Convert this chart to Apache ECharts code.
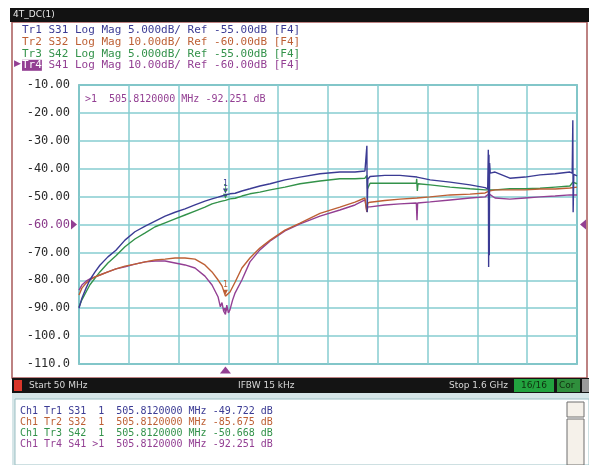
<!DOCTYPE html>
<html>
<head>
<meta charset="utf-8">
<script src="https://cdn.jsdelivr.net/npm/echarts@6/dist/echarts.min.js"></script>
<style>
  html, body { margin: 0; padding: 0; background: #ffffff; }
  #chart { width: 589px; height: 465px; }
</style>
</head>
<body>
<div id="chart"></div>
<script>
// Sweep: 50 MHz .. 1.6 GHz, 10 horizontal divisions
const startMHz = 50;
const stopMHz = 1600;
const markerMHz = 505.812;

// Display scale of the active trace (Tr4): 10 dB/div, ref -60 dB at centre
const yTicks = [-110, -100, -90, -80, -70, -60, -50, -40, -30, -20, -10];

// Tr1 S31, 5 dB/div, ref -55 dB  ([MHz, dB])
const s31 = [
  [50,-70.0],[59,-68.2],[72,-66.4],[84,-64.9],[100,-63.5],[115,-62.3],[140,-60.8],[165,-59.6],
  [193,-57.8],[224,-56.3],[256,-55.3],[287,-54.4],[318,-53.5],[349,-52.8],[380,-52.2],[411,-51.5],
  [442,-50.8],[464,-50.4],[483,-50.1],[495,-49.9],[505.812,-49.722],[520,-49.5],[536,-49.4],
  [557,-49.0],[582,-48.6],[613,-48.1],[645,-47.7],[691,-47.0],[738,-46.5],[800,-45.9],[862,-45.6],
  [909,-45.6],[940,-45.4],[944,-45.3],[946,-40.9],[947,-52.8],[949,-46.9],[956,-46.4],[1002,-46.2],
  [1049,-46.2],[1102,-46.5],[1143,-47.0],[1205,-47.4],[1267,-47.9],[1314,-48.4],[1322,-48.6],
  [1324,-41.6],[1325,-62.6],[1326,-42.5],[1327,-60.5],[1328,-44.0],[1330,-45.8],[1345,-45.6],
  [1391,-46.7],[1438,-46.5],[1485,-46.1],[1532,-45.9],[1578,-45.6],[1585,-45.8],[1587,-36.3],
  [1588,-52.8],[1590,-46.0],[1600,-46.3]
];

// Tr2 S32, 10 dB/div, ref -60 dB
const s32 = [
  [50,-85.3],[59,-82.8],[72,-81.0],[84,-79.9],[100,-78.8],[115,-78.1],[140,-77.0],[165,-75.9],
  [193,-74.9],[224,-74.2],[256,-73.4],[287,-72.7],[318,-72.4],[349,-72.0],[380,-72.0],[411,-72.4],
  [442,-74.5],[464,-77.0],[483,-79.9],[495,-82.0],[505.812,-85.675],[520,-84.2],[536,-80.6],
  [557,-75.6],[582,-72.0],[613,-68.4],[645,-65.6],[691,-62.0],[738,-59.5],[800,-56.0],[862,-53.8],
  [909,-52.0],[940,-50.5],[946,-55.5],[949,-52.3],[956,-52.0],[1002,-51.4],[1049,-50.9],
  [1102,-50.5],[1143,-50.1],[1205,-49.4],[1267,-49.1],[1314,-48.7],[1326,-48.0],[1345,-47.6],
  [1391,-47.6],[1438,-47.6],[1485,-47.3],[1532,-47.3],[1578,-46.9],[1600,-46.6]
];

// Tr3 S42, 5 dB/div, ref -55 dB
const s42 = [
  [50,-69.8],[59,-68.5],[72,-67.1],[84,-65.8],[100,-64.6],[115,-63.5],[140,-61.9],[165,-60.6],
  [193,-59.0],[224,-57.6],[256,-56.5],[287,-55.4],[318,-54.7],[349,-54.0],[380,-53.3],[411,-52.6],
  [442,-51.9],[464,-51.3],[483,-51.0],[495,-50.8],[505.812,-50.668],[520,-50.4],[536,-50.3],
  [557,-49.9],[582,-49.5],[613,-49.2],[645,-48.8],[691,-48.3],[738,-47.7],[800,-47.2],[862,-46.8],
  [909,-46.8],[940,-46.7],[946,-46.2],[948,-48.6],[956,-47.6],[1002,-47.6],[1049,-47.6],
  [1100,-47.6],[1101,-46.8],[1103,-49.0],[1105,-47.7],[1143,-47.9],[1205,-48.3],[1267,-48.6],
  [1314,-48.8],[1345,-48.8],[1391,-48.6],[1438,-48.6],[1485,-48.5],[1532,-48.3],[1578,-48.1],
  [1587,-47.4],[1600,-47.7]
];

// Tr4 S41, 10 dB/div, ref -60 dB (active trace)
const s41 = [
  [50,-83.5],[59,-81.7],[72,-80.3],[84,-79.5],[100,-78.8],[115,-78.1],[140,-77.0],[165,-75.9],
  [193,-75.2],[224,-74.2],[256,-73.4],[287,-73.1],[318,-73.1],[349,-73.8],[380,-74.5],[411,-75.6],
  [442,-78.5],[464,-81.7],[483,-86.0],[490,-89.5],[495,-88.0],[500,-91.0],[505.812,-92.251],
  [510,-88.9],[515,-91.7],[520,-90.5],[528,-87.1],[536,-84.5],[557,-79.9],[582,-73.4],[613,-69.1],
  [645,-65.9],[691,-62.3],[738,-59.8],[800,-57.0],[862,-54.8],[909,-53.0],[940,-51.2],[946,-55.5],
  [949,-53.7],[956,-53.7],[1002,-53.0],[1049,-52.6],[1100,-52.3],[1102,-58.5],[1104,-52.3],
  [1143,-51.9],[1205,-51.2],[1267,-50.5],[1314,-50.1],[1326,-49.0],[1345,-50.5],[1391,-50.9],
  [1438,-50.5],[1485,-50.1],[1532,-49.8],[1578,-49.4],[1600,-49.4]
];

const traceNames = ['Tr1', 'Tr2', 'Tr3', 'Tr4'];
const traceParams = ['S31', 'S32', 'S42', 'S41'];
const traceScales = ['5.000dB/', '10.00dB/', '5.000dB/', '10.00dB/'];
const traceRefs = ['-55.00dB', '-60.00dB', '-55.00dB', '-60.00dB'];
const markerValues = ['-49.722', '-85.675', '-50.668', '-92.251'];
const markerIds = ['1', '1', '1', '>1'];
const traceColors = ['#3b3b94', '#bd5f34', '#33924a', '#933f93'];

const mono = '"DejaVu Sans Mono", monospace';
const sans = '"DejaVu Sans", sans-serif';

const chart = echarts.init(document.getElementById('chart'), null, { renderer: 'canvas' });

function markerPin(color, value) {
  return {
    symbol: 'triangle',
    symbolRotate: 180,
    symbolSize: [5, 5],
    symbolOffset: [0, -4],
    silent: true,
    itemStyle: { color: color },
    label: { show: true, position: 'top', distance: 1, formatter: '1', color: color, fontSize: 8, fontFamily: mono },
    data: [{ coord: [markerMHz, value] }]
  };
}

function trace(i, data, yIndex, value) {
  return {
    type: 'line',
    name: traceNames[i],
    xAxisIndex: 0,
    yAxisIndex: yIndex,
    data: data,
    showSymbol: false,
    symbol: 'none',
    lineStyle: { color: traceColors[i], width: 1.4 },
    z: 3 + (3 - i) % 4,
    markPoint: markerPin(traceColors[i], value)
  };
}

const tr4 = trace(3, s41, 0, -92.251);
// active-trace indicators: reference level arrows and stimulus marker
tr4.markPoint = {
  silent: true,
  data: [
    { coord: [markerMHz, -92.251], symbol: 'triangle', symbolRotate: 180, symbolSize: [5, 5], symbolOffset: [0, -4],
      itemStyle: { color: traceColors[3] }, label: { show: false } },
    { coord: [markerMHz, -110], symbol: 'triangle', symbolSize: [11, 7], symbolOffset: [0, 6],
      itemStyle: { color: traceColors[3] }, label: { show: false } },
    { coord: [startMHz, -60], symbol: 'triangle', symbolRotate: -90, symbolSize: [10, 6], symbolOffset: [-5, 0],
      itemStyle: { color: traceColors[3] }, label: { show: false } },
    { coord: [stopMHz, -60], symbol: 'triangle', symbolRotate: 90, symbolSize: [10, 6], symbolOffset: [6, 0],
      itemStyle: { color: traceColors[3] }, label: { show: false } }
  ]
};

// header lines and marker table
const headerTexts = [];
for (let i = 0; i < 4; i++) {
  const body = ' ' + traceParams[i] + ' Log Mag ' + traceScales[i] + ' Ref ' + traceRefs[i] + ' [F4]';
  headerTexts.push({
    type: 'text', left: 22, top: 25 + i * 11.6, z: 10,
    style: {
      text: i === 3 ? '{act|' + traceNames[i] + '}' + body : traceNames[i] + body,
      fill: traceColors[i], font: '11px ' + mono,
      rich: { act: { backgroundColor: traceColors[3], fill: '#ffffff', fontFamily: mono, fontSize: 11 } }
    }
  });
}
const tableTexts = [];
for (let i = 0; i < 4; i++) {
  const id = markerIds[i].length === 1 ? ' ' + markerIds[i] : markerIds[i];
  tableTexts.push({
    type: 'text', left: 20, top: 406 + i * 11.3, z: 10,
    style: {
      text: 'Ch1 ' + traceNames[i] + ' ' + traceParams[i] + ' ' + id + '  ' + markerMHz.toFixed(7) + ' MHz ' + markerValues[i] + ' dB',
      fill: traceColors[i], font: '10px ' + mono
    }
  });
}

const option = {
  animation: false,
  backgroundColor: '#ffffff',
  grid: {
    left: 79, right: 12, top: 85, bottom: 101,
    show: true, borderColor: '#4b9a9a', borderWidth: 1.5, backgroundColor: 'transparent'
  },
  xAxis: [
    { type: 'value', min: startMHz, max: stopMHz, show: false },
    {
      type: 'value', min: 0, max: 10, interval: 1, position: 'bottom',
      axisLabel: { show: false }, axisTick: { show: false }, axisLine: { show: false },
      splitLine: { show: true, lineStyle: { color: '#86cdd1', width: 1.5 } }
    }
  ],
  yAxis: [
    {
      type: 'value', min: yTicks[0], max: yTicks[yTicks.length - 1], interval: 10,
      axisLine: { show: false }, axisTick: { show: false },
      splitLine: { show: true, lineStyle: { color: '#86cdd1', width: 1.5 } },
      axisLabel: {
        margin: 9, fontFamily: mono, fontSize: 12, color: '#2a2a2a',
        formatter: function (v) {
          let s = v.toFixed(2);
          if (s.length > 6) s = s.slice(0, 6);
          return v === -60 ? '{ref|' + s + '}' : s;
        },
        rich: { ref: { color: '#8a3a8a', fontFamily: mono, fontSize: 12 } }
      }
    },
    { type: 'value', min: -80, max: -30, show: false }
  ],
  series: [
    tr4,
    trace(1, s32, 0, -85.675),
    trace(2, s42, 1, -50.668),
    trace(0, s31, 1, -49.722)
  ],
  graphic: [
    // window frame
    { type: 'rect', shape: { x: 12, y: 22, width: 575, height: 356 }, style: { fill: 'none', stroke: '#a85a5a', lineWidth: 1.5 }, z: 1 },
    { type: 'rect', shape: { x: 10, y: 8, width: 579, height: 14 }, style: { fill: '#121212' }, z: 10 },
    { type: 'text', left: 13, top: 10, z: 11, style: { text: '4T_DC(1)', fill: '#e8e8e8', font: '9px ' + sans } },
    ...headerTexts,
    { type: 'text', left: 14, top: 59, z: 10, style: { text: '▶', fill: traceColors[3], font: '9px ' + sans } },
    // active marker readout inside the graticule
    { type: 'text', left: 85, top: 94, z: 10,
      style: { text: '>1  ' + markerMHz.toFixed(7) + ' MHz ' + markerValues[3] + ' dB', fill: traceColors[3], font: '10px ' + mono } },
    // status bar
    { type: 'rect', shape: { x: 12, y: 378, width: 577, height: 15 }, style: { fill: '#141414' }, z: 10 },
    { type: 'rect', shape: { x: 14, y: 380, width: 8, height: 11 }, style: { fill: '#d9362a' }, z: 11 },
    { type: 'text', left: 29, top: 381, z: 11, style: { text: 'Start 50 MHz', fill: '#d8d8d8', font: '9px ' + sans } },
    { type: 'text', left: 238, top: 381, z: 11, style: { text: 'IFBW 15 kHz', fill: '#d8d8d8', font: '9px ' + sans } },
    { type: 'text', left: 449, top: 381, z: 11, style: { text: 'Stop 1.6 GHz', fill: '#d8d8d8', font: '9px ' + sans } },
    { type: 'rect', shape: { x: 514, y: 379, width: 40, height: 13 }, style: { fill: '#22a33f' }, z: 11 },
    { type: 'text', left: 521, top: 381, z: 12, style: { text: '16/16', fill: '#10300f', font: '9px ' + sans } },
    { type: 'rect', shape: { x: 557, y: 379, width: 23, height: 13 }, style: { fill: '#2f8f3c' }, z: 11 },
    { type: 'text', left: 559, top: 381, z: 12, style: { text: 'Cor', fill: '#10300f', font: '9px ' + sans } },
    { type: 'rect', shape: { x: 582, y: 379, width: 7, height: 13 }, style: { fill: '#9a9a9a' }, z: 11 },
    // marker table panel
    { type: 'rect', shape: { x: 12, y: 393, width: 577, height: 72 }, style: { fill: '#d6e6e8' }, z: 1 },
    { type: 'rect', shape: { x: 15, y: 399, width: 574, height: 66 }, style: { fill: '#ffffff', stroke: '#9cc0c4', lineWidth: 1 }, z: 2 },
    { type: 'rect', shape: { x: 567, y: 402, width: 17, height: 15 }, style: { fill: '#f5f1ea', stroke: '#6f6f6f', lineWidth: 1 }, z: 3 },
    { type: 'rect', shape: { x: 567, y: 419, width: 17, height: 46 }, style: { fill: '#f5f1ea', stroke: '#6f6f6f', lineWidth: 1 }, z: 3 },
    ...tableTexts
  ]
};

chart.setOption(option);
</script>
</body>
</html>
